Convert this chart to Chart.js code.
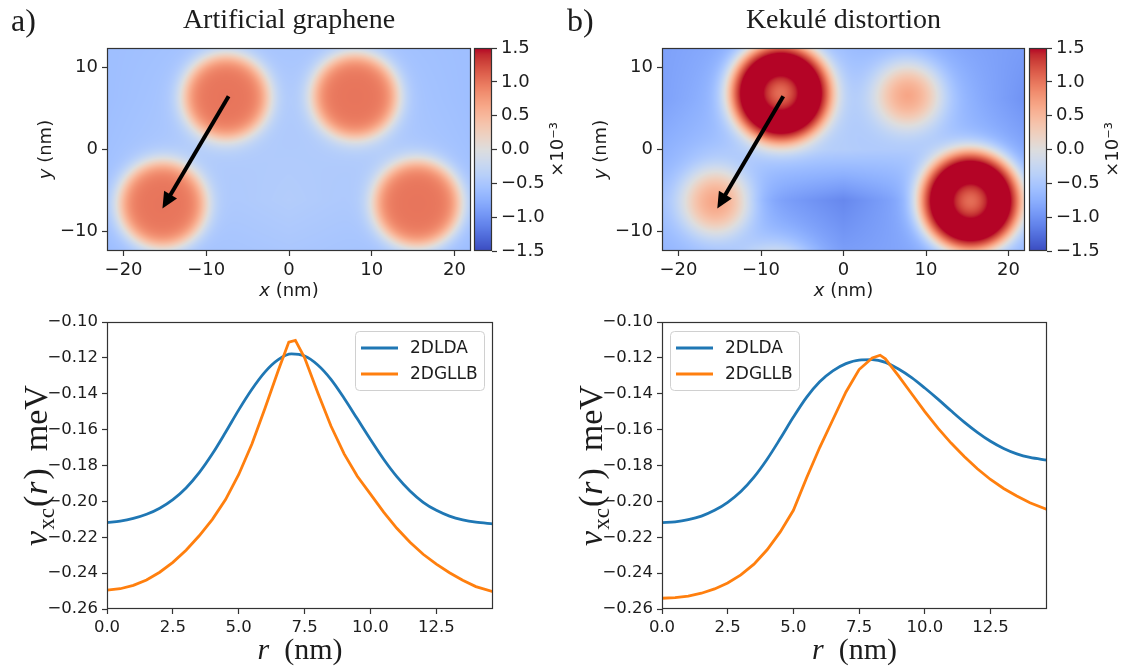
<!DOCTYPE html>
<html>
<head>
<meta charset="utf-8">
<title>Exchange–correlation potential in artificial graphene</title>
<script src="https://cdn.jsdelivr.net/npm/chart.js@4.4.1/dist/chart.umd.min.js"></script>
<style>
  html, body { margin: 0; padding: 0; background: #ffffff; }
  #fig { position: relative; width: 1126px; height: 671px; overflow: hidden; background: #ffffff; }
  #fig canvas { position: absolute; }
</style>
</head>
<body>
<div id="fig">
  <canvas id="mapA"></canvas>
  <canvas id="barA"></canvas>
  <canvas id="mapB"></canvas>
  <canvas id="barB"></canvas>
  <canvas id="lineA"></canvas>
  <canvas id="lineB"></canvas>
</div>
<script>
// ---------------------------------------------------------------------------
// Tick values
// ---------------------------------------------------------------------------
const mapXTicks = [-20, -10, 0, 10, 20];
const mapYTicks = [-10, 0, 10];
const barTicks  = [-1.5, -1.0, -0.5, 0.0, 0.5, 1.0, 1.5];
const rTicks    = [0, 2.5, 5.0, 7.5, 10.0, 12.5];
const vTicks    = [-0.26, -0.24, -0.22, -0.20, -0.18, -0.16, -0.14, -0.12, -0.10];

// ---------------------------------------------------------------------------
// Density maps (values in units of 1e-3)
// background level on a coarse grid, then one entry per quantum dot
// ---------------------------------------------------------------------------
const bgX = [-22, -11, 0, 11, 22];
const bgY = [12.4, 6.2, 0, -6.2, -12.4];

const bgA = [
  [-0.60, -0.55, -0.52, -0.55, -0.60],
  [-0.60, -0.50, -0.48, -0.50, -0.60],
  [-0.58, -0.45, -0.45, -0.45, -0.58],
  [-0.58, -0.50, -0.42, -0.50, -0.58],
  [-0.62, -0.55, -0.50, -0.55, -0.62]
];
const dotAX      = [-7.6, 8.0, -15.3, 15.5];
const dotAY      = [6.4, 6.5, -6.7, -6.6];
const dotARim    = [1.0, 1.0, 1.0, 1.0];
const dotACore   = [1.0, 1.0, 1.0, 1.0];
const dotARadius = [5.1, 5.1, 5.2, 5.2];
const dotAEdge   = [0.65, 0.65, 0.65, 0.65];

const bgB = [
  [-0.88, -0.75, -0.62, -0.80, -0.92],
  [-0.88, -0.60, -0.50, -0.60, -1.00],
  [-0.75, -0.50, -0.42, -0.55, -0.85],
  [-0.62, -0.82, -1.08, -0.70, -0.70],
  [-0.70, -0.62, -0.92, -0.80, -0.70]
];
const dotBX      = [-7.6, 7.8, -15.5, 15.4, -8.0];
const dotBY      = [6.9, 6.6, -6.4, -6.3, -16.5];
const dotBRim    = [2.0, 0.72, 0.72, 2.0, 0.45];
const dotBCore   = [1.05, 0.72, 0.72, 1.05, 0.45];
const dotBRadius = [6.0, 3.4, 3.6, 6.0, 3.8];
const dotBEdge   = [0.75, 1.1, 1.1, 0.75, 1.2];

// radial cut used for the lower panels (nm)
const cutX = [-7.3, -15.3];
const cutY = [6.5, -7.2];

// ---------------------------------------------------------------------------
// Radial v_xc profiles (meV)
// ---------------------------------------------------------------------------
const rLdaA  = [0, 0.5, 1, 1.5, 2, 2.5, 3, 3.5, 4, 4.5, 5, 5.5, 6, 6.5, 7, 7.5, 8, 8.5, 9, 9.5, 10, 10.5, 11, 11.5, 12, 12.5, 13, 13.5, 14, 14.65];
const vLdaA  = [-0.2118, -0.2110, -0.2095, -0.2072, -0.2038, -0.1990, -0.1925, -0.1840, -0.1735, -0.1615,
                -0.1490, -0.1375, -0.1278, -0.1210, -0.1178, -0.1190, -0.1240, -0.1320, -0.1425, -0.1540,
                -0.1655, -0.1765, -0.1862, -0.1942, -0.2005, -0.2050, -0.2082, -0.2103, -0.2116, -0.2125];
const rGllbA = [0, 0.5, 1, 1.5, 2, 2.5, 3, 3.5, 4, 4.5, 5, 5.5, 6, 6.5, 6.9, 7.15, 7.5, 8, 8.5, 9, 9.5, 10, 10.5, 11, 11.5, 12, 12.5, 13, 13.5, 14, 14.65];
const vGllbA = [-0.2495, -0.2487, -0.2468, -0.2438, -0.2395, -0.2340, -0.2272, -0.2192, -0.2100, -0.1990,
                -0.1850, -0.1680, -0.1480, -0.1270, -0.1112, -0.1102, -0.1200, -0.1395, -0.1580, -0.1735,
                -0.1860, -0.1960, -0.2060, -0.2150, -0.2228, -0.2295, -0.2350, -0.2398, -0.2440, -0.2475, -0.2503];

const rLdaB  = [0, 0.5, 1, 1.5, 2, 2.5, 3, 3.5, 4, 4.5, 5, 5.5, 6, 6.5, 7, 7.5, 8, 8.5, 9, 9.5, 10, 10.5, 11, 11.5, 12, 12.5, 13, 13.5, 14, 14.65];
const vLdaB  = [-0.2118, -0.2114, -0.2102, -0.2082, -0.2050, -0.2005, -0.1945, -0.1865, -0.1765, -0.1650,
                -0.1530, -0.1420, -0.1333, -0.1272, -0.1232, -0.1212, -0.1210, -0.1225, -0.1262, -0.1310,
                -0.1368, -0.1430, -0.1495, -0.1558, -0.1615, -0.1665, -0.1705, -0.1735, -0.1755, -0.1770];
const rGllbB = [0, 0.5, 1, 1.5, 2, 2.5, 3, 3.5, 4, 4.5, 5, 5.5, 6, 6.5, 7, 7.5, 8, 8.3, 8.5, 9, 9.5, 10, 10.5, 11, 11.5, 12, 12.5, 13, 13.5, 14, 14.65];
const vGllbB = [-0.2540, -0.2537, -0.2528, -0.2512, -0.2488, -0.2455, -0.2410, -0.2350, -0.2270, -0.2170,
                -0.2050, -0.1870, -0.1700, -0.1545, -0.1390, -0.1265, -0.1200, -0.1185, -0.1205, -0.1300,
                -0.1400, -0.1500, -0.1592, -0.1675, -0.1750, -0.1818, -0.1878, -0.1928, -0.1970, -0.2008, -0.2045];

// ---------------------------------------------------------------------------
// Styling helpers
// ---------------------------------------------------------------------------
const SANS  = "'DejaVu Sans', sans-serif";
const SERIF = "'Liberation Serif', 'DejaVu Serif', serif";
const INK   = '#1c1c1c';
const FRAME = '#333333';

// diverging blue–white–red colour table (33 evenly spaced stops)
const COOLWARM = [
  [59,76,192],[68,90,204],[77,104,215],[87,117,225],[98,130,234],[108,142,241],[119,154,247],[130,165,251],
  [141,176,254],[152,185,255],[163,194,255],[174,201,253],[184,208,249],[194,213,244],[204,217,238],[213,219,230],
  [221,221,221],[229,216,209],[236,211,197],[241,204,184],[245,196,173],[247,187,160],[247,177,148],[247,166,135],
  [244,154,123],[241,141,111],[236,127,99],[229,112,88],[222,96,77],[213,80,66],[203,62,56],[192,40,47],[180,4,38]
];
function coolwarm(t) {
  t = Math.min(1, Math.max(0, t));
  const f = t * 32, i = Math.min(31, Math.floor(f)), u = f - i;
  const a = COOLWARM[i], b = COOLWARM[i + 1];
  return [a[0] + (b[0] - a[0]) * u, a[1] + (b[1] - a[1]) * u, a[2] + (b[2] - a[2]) * u];
}

function fmt(v, d) {
  const s = Math.abs(v).toFixed(d);
  return (v < -1e-9 ? '\u2212' : '') + s;
}

function place(cv, b) {
  cv.width = b.w; cv.height = b.h;
  cv.style.left = b.left + 'px'; cv.style.top = b.top + 'px';
  cv.style.width = b.w + 'px'; cv.style.height = b.h + 'px';
}

// mixed-font text run, centred (or left aligned) on (x, y) baseline, optionally rotated
function richText(ctx, segs, x, y, rotated, align) {
  ctx.save();
  ctx.translate(x, y);
  if (rotated) ctx.rotate(-Math.PI / 2);
  ctx.fillStyle = INK;
  ctx.textBaseline = 'alphabetic';
  ctx.textAlign = 'left';
  let total = 0;
  for (const s of segs) { ctx.font = s.font; s.w = ctx.measureText(s.t).width + (s.gap || 0); total += s.w; }
  let cx = align === 'left' ? 0 : -total / 2;
  for (const s of segs) { ctx.font = s.font; ctx.fillText(s.t, cx, s.dy || 0); cx += s.w; }
  ctx.restore();
}

// ---------------------------------------------------------------------------
// Density field evaluation
// ---------------------------------------------------------------------------
function bgValue(grid, x, y) {
  let i = 0; while (i < bgX.length - 2 && x > bgX[i + 1]) i++;
  let j = 0; while (j < bgY.length - 2 && y < bgY[j + 1]) j++;
  const u = Math.min(1, Math.max(0, (x - bgX[i]) / (bgX[i + 1] - bgX[i])));
  const v = Math.min(1, Math.max(0, (bgY[j] - y) / (bgY[j] - bgY[j + 1])));
  return grid[j][i] * (1 - u) * (1 - v) + grid[j][i + 1] * u * (1 - v) +
         grid[j + 1][i] * (1 - u) * v + grid[j + 1][i + 1] * u * v;
}

function fieldValue(m, x, y) {
  let v = bgValue(m.bg, x, y);
  for (let k = 0; k < m.x.length; k++) {
    const r = Math.hypot(x - m.x[k], y - m.y[k]);
    const s = 1 / (1 + Math.exp((r - m.radius[k]) / m.edge[k]));
    const inner = m.rim[k] + (m.core[k] - m.rim[k]) * Math.exp(-(r * r) / (2.6 * 2.6));
    v += (inner - v) * s;
  }
  return v;
}

const mapA = { bg: bgA, x: dotAX, y: dotAY, rim: dotARim, core: dotACore, radius: dotARadius, edge: dotAEdge };
const mapB = { bg: bgB, x: dotBX, y: dotBY, rim: dotBRim, core: dotBCore, radius: dotBRadius, edge: dotBEdge };

// ---------------------------------------------------------------------------
// Plugins
// ---------------------------------------------------------------------------
function heatLayer(m) {
  return {
    id: 'heatLayer',
    beforeDatasetsDraw(chart) {
      const { ctx, chartArea: a, scales: { x: sx, y: sy } } = chart;
      const x0 = Math.round(a.left), y0 = Math.round(a.top);
      const w = Math.round(a.right) - x0, h = Math.round(a.bottom) - y0;
      const img = ctx.createImageData(w, h);
      for (let j = 0; j < h; j++) {
        const yv = sy.getValueForPixel(y0 + j + 0.5);
        for (let i = 0; i < w; i++) {
          const xv = sx.getValueForPixel(x0 + i + 0.5);
          const c = coolwarm((fieldValue(m, xv, yv) + 1.5) / 3);
          const o = (j * w + i) * 4;
          img.data[o] = c[0]; img.data[o + 1] = c[1]; img.data[o + 2] = c[2]; img.data[o + 3] = 255;
        }
      }
      ctx.putImageData(img, x0, y0);
    }
  };
}

function arrowLayer(ax, ay) {
  return {
    id: 'arrowLayer',
    afterDatasetsDraw(chart) {
      const { ctx, scales: { x: sx, y: sy } } = chart;
      const x0 = sx.getPixelForValue(ax[0]), y0 = sy.getPixelForValue(ay[0]);
      const x1 = sx.getPixelForValue(ax[1]), y1 = sy.getPixelForValue(ay[1]);
      const L = Math.hypot(x1 - x0, y1 - y0), ux = (x1 - x0) / L, uy = (y1 - y0) / L;
      const head = 16, half = 7.5;
      const bx = x1 - ux * head, by = y1 - uy * head;
      ctx.save();
      ctx.strokeStyle = '#000'; ctx.fillStyle = '#000';
      ctx.lineWidth = 4; ctx.lineCap = 'butt';
      ctx.beginPath(); ctx.moveTo(x0, y0); ctx.lineTo(bx + ux, by + uy); ctx.stroke();
      ctx.beginPath();
      ctx.moveTo(x1, y1);
      ctx.lineTo(bx - uy * half, by + ux * half);
      ctx.lineTo(bx + uy * half, by - ux * half);
      ctx.closePath(); ctx.fill();
      ctx.restore();
    }
  };
}

const frameLayer = {
  id: 'frameLayer',
  afterDraw(chart) {
    const { ctx, chartArea: a } = chart;
    ctx.save();
    ctx.strokeStyle = FRAME; ctx.lineWidth = 1.2;
    ctx.strokeRect(a.left + 0.5, a.top + 0.5, a.right - a.left - 1, a.bottom - a.top - 1);
    ctx.restore();
  }
};

function mapLabels(panel, panelX, title) {
  return {
    id: 'mapLabels',
    afterDraw(chart) {
      const { ctx, chartArea: a } = chart;
      const cx = (a.left + a.right) / 2, cy = (a.top + a.bottom) / 2;
      richText(ctx, [{ t: title, font: `28px ${SERIF}` }], cx, 28);
      richText(ctx, [{ t: panel, font: `32px ${SERIF}` }], panelX, 31, false, 'left');
      richText(ctx, [{ t: 'x', font: `italic 18px ${SANS}` }, { t: ' (nm)', font: `18px ${SANS}` }], cx, a.bottom + 45);
      richText(ctx, [{ t: 'y', font: `italic 18px ${SANS}` }, { t: ' (nm)', font: `18px ${SANS}` }], a.left - 56, cy, true);
    }
  };
}

const barLayer = {
  id: 'barLayer',
  beforeDatasetsDraw(chart) {
    const { ctx, chartArea: a, scales: { y } } = chart;
    for (let py = Math.round(a.top); py < Math.round(a.bottom); py++) {
      const c = coolwarm((y.getValueForPixel(py + 0.5) + 1.5) / 3);
      ctx.fillStyle = `rgb(${c[0] | 0},${c[1] | 0},${c[2] | 0})`;
      ctx.fillRect(a.left, py, a.right - a.left, 1);
    }
  },
  afterDraw(chart) {
    const { ctx, chartArea: a } = chart;
    richText(ctx, [{ t: '\u00d710\u207b\u00b3', font: `18px ${SANS}` }], a.right + 71, (a.top + a.bottom) / 2, true);
  }
};

function lineLabels() {
  return {
    id: 'lineLabels',
    afterDraw(chart) {
      const { ctx, chartArea: a } = chart;
      const cx = (a.left + a.right) / 2, cy = (a.top + a.bottom) / 2;
      richText(ctx, [{ t: 'r', font: `italic 30px ${SERIF}` }, { t: '\u2002(nm)', font: `30px ${SERIF}` }], cx, a.bottom + 50);
      richText(ctx, [
        { t: 'v', font: `italic 34px ${SERIF}`, gap: 1 },
        { t: 'xc', font: `23px ${SERIF}`, dy: 7, gap: 1 },
        { t: '(', font: `34px ${SERIF}`, gap: 1 },
        { t: 'r', font: `italic 34px ${SERIF}`, gap: 2 },
        { t: ')', font: `34px ${SERIF}` },
        { t: '\u2002meV', font: `34px ${SERIF}` }
      ], a.left - 60, cy, true);
    }
  };
}

function legendBox(side) {
  return {
    id: 'legendBox',
    afterDraw(chart) {
      const { ctx, chartArea: a } = chart;
      const bw = 129, bh = 59;
      const left = side === 'right' ? a.right - 9 - bw : a.left + 8;
      const top = a.top + 9;
      ctx.save();
      ctx.beginPath();
      ctx.roundRect(left + 0.5, top + 0.5, bw, bh, 4);
      ctx.fillStyle = 'rgba(255,255,255,0.8)'; ctx.fill();
      ctx.strokeStyle = '#d0d0d0'; ctx.lineWidth = 1; ctx.stroke();
      ctx.font = `17px ${SANS}`; ctx.textBaseline = 'middle'; ctx.textAlign = 'left';
      chart.data.datasets.forEach((ds, i) => {
        const yy = top + 17 + i * 26;
        ctx.strokeStyle = ds.borderColor; ctx.lineWidth = 3; ctx.lineCap = 'butt';
        ctx.beginPath(); ctx.moveTo(left + 6, yy); ctx.lineTo(left + 43, yy); ctx.stroke();
        ctx.fillStyle = INK; ctx.fillText(ds.label, left + 55, yy + 1);
      });
      ctx.restore();
    }
  };
}

// ---------------------------------------------------------------------------
// Chart builders
// ---------------------------------------------------------------------------
function axisCommon(fontSize, decimals, ticksArr, fixedSize, horizontal) {
  return {
    type: 'linear',
    afterBuildTicks: s => { s.ticks = ticksArr.map(v => ({ value: v })); },
    afterFit: s => { if (horizontal) s.height = fixedSize; else s.width = fixedSize; },
    ticks: { callback: v => fmt(v, decimals), font: { family: SANS, size: fontSize }, color: INK,
             padding: 4, maxRotation: 0, autoSkip: false },
    grid: { drawOnChartArea: false, drawTicks: true, tickLength: 5, tickColor: FRAME, tickWidth: 1.2 },
    border: { display: false }
  };
}

function makeMap(id, box, m, panel, panelX, title) {
  const cv = document.getElementById(id);
  place(cv, box);
  const xs = axisCommon(18, 0, mapXTicks, box.xh, true);
  const ys = axisCommon(18, 0, mapYTicks, box.yw, false);
  xs.min = -22; xs.max = 22;
  ys.min = -12.4; ys.max = 12.4;
  return new Chart(cv, {
    type: 'scatter',
    data: { datasets: [{ label: 'dots', data: m.x.map((x, k) => ({ x, y: m.y[k] })), pointRadius: 0 }] },
    options: {
      responsive: false, animation: false, events: [],
      layout: { padding: box.pad },
      plugins: { legend: { display: false }, tooltip: { enabled: false } },
      scales: { x: xs, y: ys }
    },
    plugins: [heatLayer(m), arrowLayer(cutX, cutY), frameLayer, mapLabels(panel, panelX, title)]
  });
}

function makeBar(id, box) {
  const cv = document.getElementById(id);
  place(cv, box);
  const ys = axisCommon(18, 1, barTicks, box.yw, false);
  ys.min = -1.5; ys.max = 1.5; ys.position = 'right';
  return new Chart(cv, {
    type: 'scatter',
    data: { datasets: [{ label: 'scale', data: [], pointRadius: 0 }] },
    options: {
      responsive: false, animation: false, events: [],
      layout: { padding: box.pad },
      plugins: { legend: { display: false }, tooltip: { enabled: false } },
      scales: { x: { type: 'linear', display: false, min: 0, max: 1 }, y: ys }
    },
    plugins: [barLayer, frameLayer]
  });
}

function makeLine(id, box, rL, vL, rG, vG, side) {
  const cv = document.getElementById(id);
  place(cv, box);
  const xs = axisCommon(16.5, 1, rTicks, box.xh, true);
  const ys = axisCommon(16.5, 2, vTicks, box.yw, false);
  xs.min = 0; xs.max = rL[rL.length - 1];
  ys.min = -0.26; ys.max = -0.10;
  return new Chart(cv, {
    type: 'scatter',
    data: {
      datasets: [
        { label: '2DLDA', data: rL.map((r, k) => ({ x: r, y: vL[k] })), showLine: true,
          borderColor: '#1f77b4', borderWidth: 2.8, pointRadius: 0, cubicInterpolationMode: 'monotone', order: 1 },
        { label: '2DGLLB', data: rG.map((r, k) => ({ x: r, y: vG[k] })), showLine: true,
          borderColor: '#ff7f0e', borderWidth: 2.8, pointRadius: 0, tension: 0, order: 0 }
      ]
    },
    options: {
      responsive: false, animation: false, events: [],
      layout: { padding: box.pad },
      plugins: { legend: { display: false }, tooltip: { enabled: false } },
      scales: { x: xs, y: ys }
    },
    plugins: [frameLayer, lineLabels(), legendBox(side)]
  });
}

// ---------------------------------------------------------------------------
// Figure
// ---------------------------------------------------------------------------
makeMap('mapA', { left: 0, top: 0, w: 480, h: 300, xh: 45, yw: 107,
                  pad: { left: 0, top: 48, right: 9, bottom: 4 } }, mapA, 'a)', 11, 'Artificial graphene');
makeBar('barA', { left: 470, top: 0, w: 100, h: 300, yw: 78,
                  pad: { left: 4, top: 48, right: 0, bottom: 49 } });
makeMap('mapB', { left: 560, top: 0, w: 470, h: 300, xh: 45, yw: 102,
                  pad: { left: 0, top: 48, right: 5, bottom: 4 } }, mapB, 'b)', 7, 'Kekulé distortion');
makeBar('barB', { left: 1025, top: 0, w: 101, h: 300, yw: 79,
                  pad: { left: 4, top: 48, right: 0, bottom: 49 } });
makeLine('lineA', { left: 0, top: 300, w: 560, h: 371, xh: 60, yw: 107,
                    pad: { left: 0, top: 22, right: 67, bottom: 2 } }, rLdaA, vLdaA, rGllbA, vGllbA, 'right');
makeLine('lineB', { left: 560, top: 300, w: 566, h: 371, xh: 60, yw: 102,
                    pad: { left: 0, top: 22, right: 79, bottom: 2 } }, rLdaB, vLdaB, rGllbB, vGllbB, 'left');
</script>
</body>
</html>
